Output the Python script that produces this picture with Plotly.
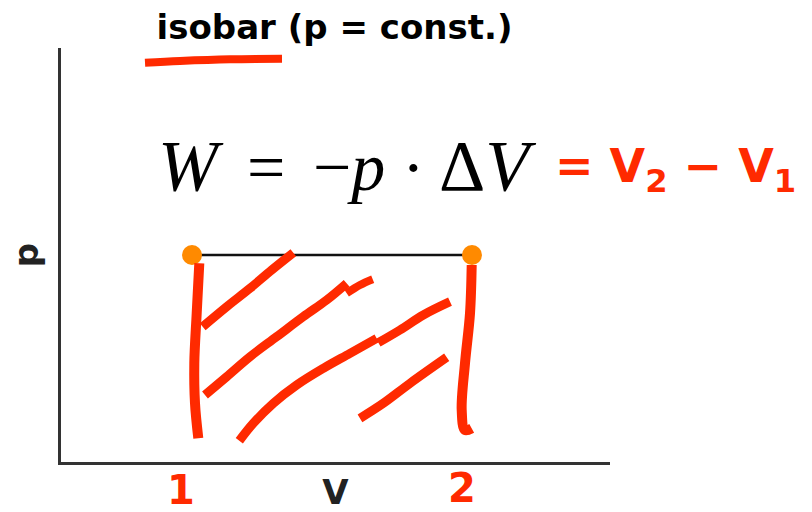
import plotly.graph_objects as go

# ---- chart data ----
V_states = [1, 3]          # V1, V2
p_states = [1, 1]          # p = const.
title_text = "isobar (p = const.)"
x_title = "V"
y_title = "p"

# ---- hand-drawn ink (page pixel coordinates of the overlay canvas) ----
underline_x = [145, 180, 230, 282]
underline_y = [62.7, 61, 59.3, 58.7]
left_bar_x = [199.3, 196.7, 194.3, 195, 198.3]
left_bar_y = [263.3, 313.3, 363.3, 403.3, 438.3]
right_bar_x = [471.7, 470, 465, 461.7, 465, 471.7]
right_bar_y = [265, 313.3, 363.3, 410, 430, 428.3]
hatch1_x = [202.7, 226.7, 250, 271.7, 293.3]
hatch1_y = [326.7, 306.7, 288.3, 270, 252.7]
hatch2_x = [205, 226.7, 250, 276.7, 303.3, 326.7, 346.7]
hatch2_y = [395, 376.7, 356.7, 336.7, 316.7, 300, 283.3]
hatch2b_x = [346.7, 360, 372.7]
hatch2b_y = [293.3, 285, 279.3]
hatch3_x = [239.3, 253.3, 273.3, 296.7, 323.3, 350, 376.7]
hatch3_y = [440.7, 423.3, 403.3, 385, 368.3, 353.3, 338.3]
hatch3b_x = [378.3, 400, 423.3, 450]
hatch3b_y = [342.7, 330, 315, 301.7]
hatch4_x = [360, 383.3, 410, 446.7]
hatch4_y = [418.3, 403.3, 383.3, 357.3]

strokes = [
    (underline_x, underline_y, 8),
    (left_bar_x, left_bar_y, 10),
    (right_bar_x, right_bar_y, 10),
    (hatch1_x, hatch1_y, 9),
    (hatch2_x, hatch2_y, 9),
    (hatch2b_x, hatch2b_y, 8),
    (hatch3_x, hatch3_y, 9),
    (hatch3b_x, hatch3b_y, 9),
    (hatch4_x, hatch4_y, 9),
]

INK = "#ff2a00"
AXIS = "#333333"
W, H = 812, 512

fig = go.Figure()

# isobar line with the two states
fig.add_trace(go.Scatter(
    x=V_states, y=p_states, mode="lines+markers",
    line=dict(color="#111111", width=2.5),
    marker=dict(color="#ff8a00", size=20),
    xaxis="x", yaxis="y", showlegend=False, hoverinfo="skip",
))

# ink strokes on overlay canvas
for sx, sy, w in strokes:
    fig.add_trace(go.Scatter(
        x=sx, y=sy, mode="lines",
        line=dict(color=INK, width=w, shape="spline"),
        xaxis="x2", yaxis="y2", showlegend=False, hoverinfo="skip",
    ))

serif = dict(family="Liberation Serif", size=68, color="black")
serif_big = dict(family="Liberation Serif", size=72, color="black")
ann = []
def A(x, y, text, font, xanchor="left"):
    ann.append(dict(x=x, y=y, xref="x2", yref="y2", text=text, showarrow=False,
                    font=font, xanchor=xanchor, yanchor="middle"))

A(156, 166, "<i>W</i>", serif_big)
A(266, 167, "=", serif, "center")
A(311, 167, "−<i>p</i>", serif)
A(413, 167, "·", serif, "center")
A(437, 166, "Δ<i>V</i>", serif_big)

red = dict(family="DejaVu Sans", size=46, color=INK, weight="bold")
red_digit = dict(family="DejaVu Sans", size=40, color=INK, weight="bold")
A(553, 169, "= V<sub>2</sub> − V<sub>1</sub>", red)
A(181, 490, "1", red_digit, "center")
A(462, 488, "2", red_digit, "center")

fig.update_layout(
    width=W, height=H,
    margin=dict(l=0, r=0, t=0, b=0),
    paper_bgcolor="white", plot_bgcolor="rgba(0,0,0,0)",
    title=dict(text=title_text, x=334.5 / W, xanchor="center", xref="paper",
               y=1 - 27.5 / H, yanchor="middle", yref="container",
               font=dict(family="DejaVu Sans", size=34, color="black", weight="bold")),
    xaxis=dict(domain=[61 / W, 610 / W], range=[0.064, 3.986], anchor="y",
               showline=True, linewidth=3, linecolor=AXIS, showgrid=False,
               zeroline=False, showticklabels=False, ticks="", automargin=False,
               title=dict(text=x_title, standoff=22,
                          font=dict(family="DejaVu Sans", size=34, color="#222222", weight="bold"))),
    yaxis=dict(domain=[50 / H, 464 / H], range=[0, 2], anchor="x",
               showline=True, linewidth=3, linecolor=AXIS, showgrid=False,
               zeroline=False, showticklabels=False, ticks="", automargin=False,
               title=dict(text=y_title, standoff=10,
                          font=dict(family="DejaVu Sans", size=34, color="#222222", weight="bold"))),
    xaxis2=dict(domain=[0, 1], range=[0, W], anchor="y2", visible=False, fixedrange=True),
    yaxis2=dict(domain=[0, 1], range=[H, 0], anchor="x2", visible=False, fixedrange=True),
    annotations=ann,
)

fig.write_html("out.html", config={"displayModeBar": False},
               post_script="document.body.style.margin='0';document.body.style.overflow='hidden';")
